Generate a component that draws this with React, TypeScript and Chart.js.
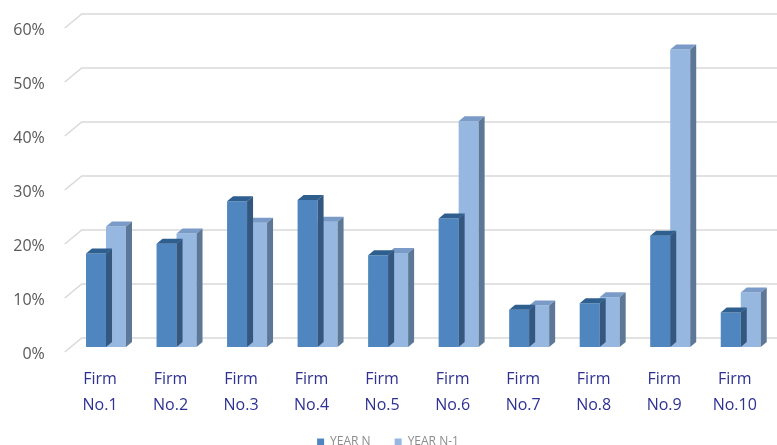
import React, { useEffect, useRef } from "react";
import { Chart, registerables } from "chart.js";

Chart.register(...registerables);

const categories: string[][] = [
  ["Firm", "No.1"], ["Firm", "No.2"], ["Firm", "No.3"], ["Firm", "No.4"], ["Firm", "No.5"],
  ["Firm", "No.6"], ["Firm", "No.7"], ["Firm", "No.8"], ["Firm", "No.9"], ["Firm", "No.10"],
];
const yearN: number[] = [0.173, 0.191, 0.27, 0.272, 0.17, 0.238, 0.069, 0.081, 0.206, 0.064];
const yearN1: number[] = [0.223, 0.21, 0.23, 0.232, 0.174, 0.418, 0.077, 0.092, 0.551, 0.101];
const yTicks: number[] = [0, 0.1, 0.2, 0.3, 0.4, 0.5, 0.6];

const FRONT = ["#4F86BF", "#95B7E0"];
const TOP = ["#2F5F8F", "#7A9BC8"];
const SIDE = ["#33577F", "#5D7897"];
const DX = 6;
const DY = 5;

const gridPlugin = {
  id: "backGrid",
  beforeDatasetsDraw(chart: any) {
    const { ctx, chartArea, scales } = chart;
    const y = scales.y;
    ctx.save();
    ctx.strokeStyle = "#D9D9D9";
    ctx.lineWidth = 1.5;
    yTicks.forEach((v) => {
      const py = y.getPixelForValue(v);
      ctx.beginPath();
      ctx.moveTo(chartArea.left - 6, py + 5);
      ctx.lineTo(chartArea.left + 11, py - 9);
      ctx.lineTo(chart.width, py - 9);
      ctx.stroke();
    });
    ctx.restore();
  },
};

const bar3dPlugin = {
  id: "bar3d",
  afterDatasetDraw(chart: any, args: any) {
    const { ctx } = chart;
    const i = args.index;
    const meta = chart.getDatasetMeta(i);
    ctx.save();
    meta.data.forEach((el: any) => {
      const { x, y, base, width } = el.getProps(["x", "y", "base", "width"], true);
      const l = x - width / 2;
      const r = x + width / 2;
      ctx.fillStyle = TOP[i];
      ctx.beginPath();
      ctx.moveTo(l, y);
      ctx.lineTo(l + DX, y - DY);
      ctx.lineTo(r + DX, y - DY);
      ctx.lineTo(r, y);
      ctx.closePath();
      ctx.fill();
      ctx.fillStyle = SIDE[i];
      ctx.beginPath();
      ctx.moveTo(r, y);
      ctx.lineTo(r + DX, y - DY);
      ctx.lineTo(r + DX, base - DY);
      ctx.lineTo(r, base);
      ctx.closePath();
      ctx.fill();
    });
    ctx.restore();
  },
};

export default function App() {
  const ref = useRef<HTMLCanvasElement | null>(null);
  useEffect(() => {
    document.body.style.margin = "0";
    if (!ref.current) return;
    const chart = new Chart(ref.current, {
      type: "bar",
      data: {
        labels: categories,
        datasets: [
          { label: "YEAR N", data: yearN, backgroundColor: FRONT[0], borderWidth: 0 },
          { label: "YEAR N-1", data: yearN1, backgroundColor: FRONT[1], borderWidth: 0 },
        ],
      },
      options: {
        responsive: false,
        animation: false,
        layout: { padding: { left: 0, right: 1, top: 23, bottom: -13 } },
        datasets: { bar: { categoryPercentage: 0.567, barPercentage: 1 } },
        plugins: {
          legend: {
            position: "bottom",
            labels: {
              boxWidth: 7,
              boxHeight: 7,
              color: "#8C8C8C",
              padding: 24,
              font: { family: "Open Sans", size: 12 },
            },
          },
          tooltip: { enabled: false },
        },
        scales: {
          x: {
            grid: { display: false, drawTicks: false },
            border: { display: false },
            afterFit: (s: any) => {
              s.height = 65;
              s.paddingLeft = 0;
              s.paddingRight = 0;
            },
            ticks: {
              color: "#2E3192",
              padding: 19,
              labelOffset: -6,
              maxRotation: 0,
              autoSkip: false,
              font: { family: "Open Sans", size: 16, lineHeight: 1.65 },
            },
          },
          y: {
            min: 0,
            max: 0.6,
            grid: { display: false, drawTicks: false },
            border: { display: false },
            afterFit: (s: any) => {
              s.width = 70.75;
              s.paddingTop = 0;
              s.paddingBottom = 0;
            },
            ticks: {
              stepSize: 0.1,
              padding: 26,
              labelOffset: 7,
              color: "#595959",
              font: { family: "Open Sans", size: 16 },
              callback: (v: any) => Math.round(Number(v) * 100) + "%",
            },
          },
        },
      },
      plugins: [gridPlugin, bar3dPlugin],
    });
    return () => chart.destroy();
  }, []);
  return (
    <div style={{ position: "absolute", left: 0, top: 0, width: 777, height: 445, background: "#fff" }}>
      <canvas ref={ref} width={777} height={445} />
    </div>
  );
}
